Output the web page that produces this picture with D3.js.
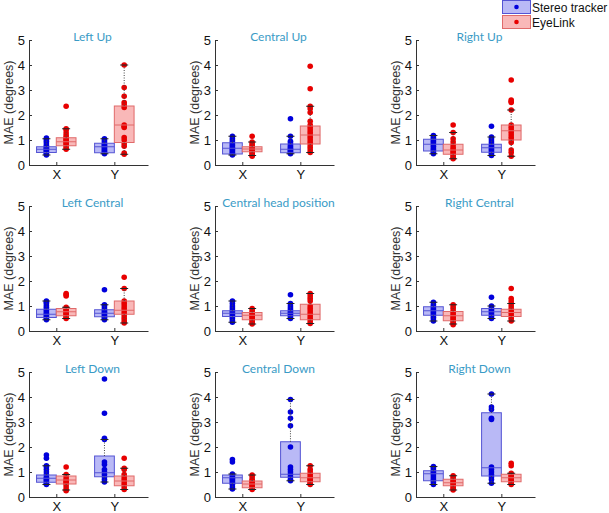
<!DOCTYPE html>
<html>
<head>
<meta charset="utf-8">
<script src="https://cdn.jsdelivr.net/npm/d3@7"></script>
<style>
  html, body { margin: 0; padding: 0; background: #fff; }
  svg { display: block; }
</style>
</head>
<body>
<svg id="chart" width="609" height="513"></svg>
<script>
// ---------------- DATA ----------------
const panelTitles = [
  "Left Up", "Central Up", "Right Up",
  "Left Central", "Central head position", "Right Central",
  "Left Down", "Central Down", "Right Down"
];
const categories = ["X", "Y"];
const seriesNames = ["Stereo tracker", "EyeLink"];
const yTicks = [0, 1, 2, 3, 4, 5];
const yLabel = "MAE (degrees)";

// box stats per panel: [X, Y], each [lowerWhisker, q1, median, q3, upperWhisker]
const stereoBoxes = [
  [[0.40, 0.50, 0.63, 0.73, 1.05], [0.45, 0.49, 0.73, 0.87, 1.05]],
  [[0.40, 0.44, 0.67, 0.89, 1.15], [0.45, 0.49, 0.63, 0.84, 1.15]],
  [[0.45, 0.56, 0.83, 1.03, 1.18], [0.38, 0.51, 0.69, 0.83, 1.12]],
  [[0.45, 0.54, 0.67, 0.87, 1.20], [0.45, 0.57, 0.71, 0.85, 1.05]],
  [[0.35, 0.58, 0.71, 0.81, 1.20], [0.50, 0.61, 0.71, 0.81, 1.10]],
  [[0.40, 0.63, 0.81, 0.97, 1.15], [0.50, 0.63, 0.77, 0.90, 1.00]],
  [[0.50, 0.59, 0.75, 0.88, 1.25], [0.60, 0.81, 0.97, 1.64, 2.30]],
  [[0.32, 0.55, 0.77, 0.88, 0.92], [0.65, 0.79, 0.91, 2.21, 3.90]],
  [[0.50, 0.65, 0.93, 1.05, 1.22], [0.55, 0.84, 1.17, 3.37, 4.12]]
];
const eyelinkBoxes = [
  [[0.63, 0.77, 0.93, 1.09, 1.45], [0.43, 0.90, 1.60, 2.36, 4.00]],
  [[0.38, 0.53, 0.64, 0.73, 0.92], [0.50, 0.84, 1.20, 1.56, 2.35]],
  [[0.25, 0.43, 0.60, 0.83, 1.30], [0.35, 1.00, 1.37, 1.60, 2.20]],
  [[0.50, 0.61, 0.77, 0.90, 0.95], [0.32, 0.67, 0.83, 1.20, 1.70]],
  [[0.28, 0.45, 0.63, 0.74, 0.90], [0.30, 0.45, 0.67, 1.07, 1.50]],
  [[0.28, 0.41, 0.61, 0.78, 1.05], [0.40, 0.58, 0.74, 0.87, 1.10]],
  [[0.28, 0.52, 0.68, 0.84, 0.90], [0.30, 0.45, 0.64, 0.84, 1.15]],
  [[0.30, 0.37, 0.52, 0.64, 0.88], [0.50, 0.61, 0.77, 0.95, 1.25]],
  [[0.28, 0.45, 0.57, 0.71, 0.85], [0.50, 0.61, 0.77, 0.91, 0.95]]
];

// individual values per panel: [X, Y]
const stereoPoints = [
  [[0.40,0.44,0.48,0.52,0.56,0.60,0.63,0.66,0.70,0.75,0.80,0.88,0.95,1.02,1.08],
   [0.45,0.48,0.52,0.56,0.60,0.65,0.70,0.74,0.78,0.82,0.86,0.92,0.98,1.05]],
  [[0.40,0.44,0.48,0.52,0.57,0.62,0.67,0.72,0.78,0.84,0.90,0.97,1.05,1.15],
   [0.45,0.48,0.52,0.56,0.60,0.64,0.68,0.74,0.80,0.88,0.95,1.15,1.85]],
  [[0.45,0.50,0.56,0.62,0.68,0.75,0.82,0.88,0.94,1.00,1.06,1.12,1.18],
   [0.38,0.44,0.50,0.56,0.62,0.68,0.74,0.80,0.88,0.96,1.05,1.12,1.55]],
  [[0.45,0.50,0.55,0.60,0.65,0.70,0.76,0.82,0.88,0.95,1.02,1.10,1.15,1.20],
   [0.45,0.50,0.55,0.60,0.65,0.70,0.75,0.80,0.85,0.92,1.00,1.05,1.65]],
  [[0.35,0.42,0.50,0.56,0.62,0.68,0.72,0.78,0.84,0.92,1.00,1.10,1.20],
   [0.50,0.56,0.62,0.68,0.72,0.78,0.85,0.92,1.00,1.10,1.45]],
  [[0.40,0.48,0.55,0.62,0.68,0.74,0.80,0.86,0.92,0.98,1.05,1.15],
   [0.50,0.56,0.62,0.68,0.74,0.80,0.86,0.92,1.00,1.35]],
  [[0.50,0.55,0.60,0.65,0.70,0.75,0.80,0.90,1.00,1.10,1.20,1.25,1.55,1.68],
   [0.60,0.70,0.80,0.90,1.00,1.10,1.30,1.40,2.30,2.35,3.35,4.72]],
  [[0.32,0.40,0.50,0.55,0.60,0.65,0.70,0.75,0.80,0.85,0.92,1.40,1.50],
   [0.65,0.70,0.80,0.90,1.00,1.10,1.20,2.00,2.85,3.15,3.40,3.90]],
  [[0.50,0.58,0.65,0.72,0.80,0.88,0.95,1.00,1.05,1.12,1.18,1.22],
   [0.55,0.70,0.80,0.90,1.00,1.10,1.20,3.10,3.15,3.50,3.60,4.12]]
];
const eyelinkPoints = [
  [[0.63,0.70,0.78,0.84,0.90,0.95,1.00,1.05,1.10,1.18,1.28,1.40,1.45,2.35],
   [0.43,0.48,0.75,0.85,1.00,1.10,1.50,1.55,1.60,2.30,2.40,2.50,2.75,3.10,4.00]],
  [[0.35,0.40,0.46,0.52,0.56,0.60,0.64,0.68,0.72,0.78,0.85,0.92,1.15],
   [0.50,0.60,0.70,0.80,0.90,1.00,1.10,1.20,1.30,1.40,1.50,1.60,1.75,2.10,2.25,2.35,3.05,3.95]],
  [[0.25,0.30,0.36,0.42,0.48,0.55,0.62,0.70,0.80,0.92,1.05,1.30,1.60],
   [0.35,0.50,0.60,0.90,1.00,1.10,1.20,1.30,1.40,1.50,1.60,2.20,2.50,2.55,2.60,3.40]],
  [[0.50,0.55,0.60,0.65,0.70,0.75,0.80,0.85,0.90,0.95,1.40,1.45,1.50],
   [0.32,0.40,0.50,0.60,0.70,0.80,0.90,1.00,1.10,1.20,1.70,2.15]],
  [[0.28,0.34,0.40,0.46,0.52,0.58,0.63,0.68,0.74,0.82,0.90],
   [0.30,0.40,0.50,0.60,0.70,0.80,0.90,1.00,1.20,1.30,1.40,1.50]],
  [[0.25,0.30,0.36,0.42,0.48,0.55,0.62,0.70,0.78,0.88,0.96,1.05],
   [0.40,0.50,0.60,0.70,0.80,0.90,1.00,1.10,1.20,1.30,1.70]],
  [[0.25,0.30,0.40,0.50,0.55,0.60,0.65,0.70,0.80,0.90,1.20],
   [0.30,0.40,0.50,0.60,0.70,0.80,0.90,1.10,1.15,1.55]],
  [[0.30,0.35,0.40,0.45,0.50,0.55,0.60,0.65,0.70,0.80,0.88],
   [0.50,0.55,0.60,0.65,0.70,0.75,0.80,0.90,1.00,1.10,1.25]],
  [[0.28,0.34,0.40,0.46,0.52,0.57,0.63,0.70,0.78,0.85],
   [0.50,0.55,0.60,0.65,0.70,0.75,0.80,0.85,0.90,0.95,1.25,1.35]]
];

// ---------------- STYLE / LAYOUT ----------------
const colLefts = [29, 215, 416];
const rowTops = [40, 206, 372];
const axW = 119, axH = 125;
const styles = [
  { fill: "#b9b9f6", stroke: "#5454d4", dot: "#0000dc" },
  { fill: "#f9b8b8", stroke: "#e06a6a", dot: "#e80000" }
];
const axisFont = "'Liberation Sans', Arial, Helvetica, sans-serif";

const svg = d3.select("#chart");

panelTitles.forEach((title, p) => {
  const left = colLefts[p % 3], top = rowTops[Math.floor(p / 3)];
  const x = d3.scaleLinear().domain([0.53, 2.58]).range([left, left + axW]);
  const y = d3.scaleLinear().domain([0, 5]).range([top + axH, top]);
  const g = svg.append("g");
  const off = 0.17, bw = 0.34;

  const groups = [];
  categories.forEach((c, ci) => {
    [stereoBoxes, eyelinkBoxes].forEach((boxes, si) => {
      groups.push({
        cx: ci + 1 + (si === 0 ? -off : off),
        stats: boxes[p][ci],
        pts: (si === 0 ? stereoPoints : eyelinkPoints)[p][ci],
        st: styles[si]
      });
    });
  });

  groups.forEach(d => {
    const [lo, q1, med, q3, hi] = d.stats;
    const x0 = x(d.cx - bw / 2), x1 = x(d.cx + bw / 2), xc = x(d.cx);
    g.append("rect").attr("x", x0).attr("y", y(q3)).attr("width", x1 - x0)
      .attr("height", y(q1) - y(q3)).attr("fill", d.st.fill);
    g.selectAll(null).data(d.pts).enter().append("circle")
      .attr("cx", xc).attr("cy", v => y(v)).attr("r", 2.8)
      .attr("fill", d.st.dot);
    g.append("rect").attr("x", x0).attr("y", y(q3)).attr("width", x1 - x0)
      .attr("height", y(q1) - y(q3)).attr("fill", "none")
      .attr("stroke", d.st.stroke).attr("stroke-width", 1);
    g.append("line").attr("x1", x0).attr("x2", x1).attr("y1", y(med)).attr("y2", y(med))
      .attr("stroke", d.st.stroke).attr("stroke-width", 1);
    [[q3, hi], [q1, lo]].forEach(([a, b]) => {
      if (Math.abs(a - b) > 0.001) {
        g.append("line").attr("x1", xc).attr("x2", xc).attr("y1", y(a)).attr("y2", y(b))
          .attr("stroke", "#444").attr("stroke-width", 1).attr("stroke-dasharray", "1,1.5");
      }
      g.append("line").attr("x1", xc - 4).attr("x2", xc + 4).attr("y1", y(b)).attr("y2", y(b))
        .attr("stroke", "#222").attr("stroke-width", 1);
    });
  });

  const ya = g.append("g").attr("transform", `translate(${left},0)`)
    .call(d3.axisLeft(y).tickValues(yTicks).tickFormat(d3.format("d"))
      .tickSizeInner(-3).tickSizeOuter(0).tickPadding(4));
  const xa = g.append("g").attr("transform", `translate(0,${top + axH})`)
    .call(d3.axisBottom(x).tickValues([1, 2]).tickFormat((v, i) => categories[i])
      .tickSizeInner(-3).tickSizeOuter(0).tickPadding(5));
  [ya, xa].forEach(a => {
    a.selectAll("path, line").attr("stroke", "#333");
    a.selectAll("text").attr("font-family", axisFont).attr("font-size", 13).attr("fill", "#111");
  });

  g.append("text")
    .attr("transform", `translate(${left - 20},${top + axH / 2}) rotate(-90)`)
    .attr("text-anchor", "middle").attr("dy", "0.35em")
    .attr("font-family", axisFont).attr("font-size", 12.5).attr("fill", "#333")
    .text(yLabel);

  g.append("text")
    .attr("x", left + axW / 2 + 4).attr("y", top + 1)
    .attr("text-anchor", "middle")
    .attr("font-family", "Lato, 'Open Sans', sans-serif").attr("font-size", 12)
    .attr("fill", "#3a9bc6")
    .text(title);
});

// legend
const leg = svg.append("g");
seriesNames.forEach((name, i) => {
  const yy = i * 15;
  leg.append("rect").attr("x", 502.5).attr("y", yy + 0.5).attr("width", 28).attr("height", 13)
    .attr("fill", styles[i].fill).attr("stroke", styles[i].stroke);
  leg.append("circle").attr("cx", 516.5).attr("cy", yy + 7).attr("r", 2.3).attr("fill", styles[i].dot);
  leg.append("text").attr("x", 532).attr("y", yy + 11.5)
    .attr("font-family", axisFont).attr("font-size", 12).attr("fill", "#111").text(name);
});
</script>
</body>
</html>
